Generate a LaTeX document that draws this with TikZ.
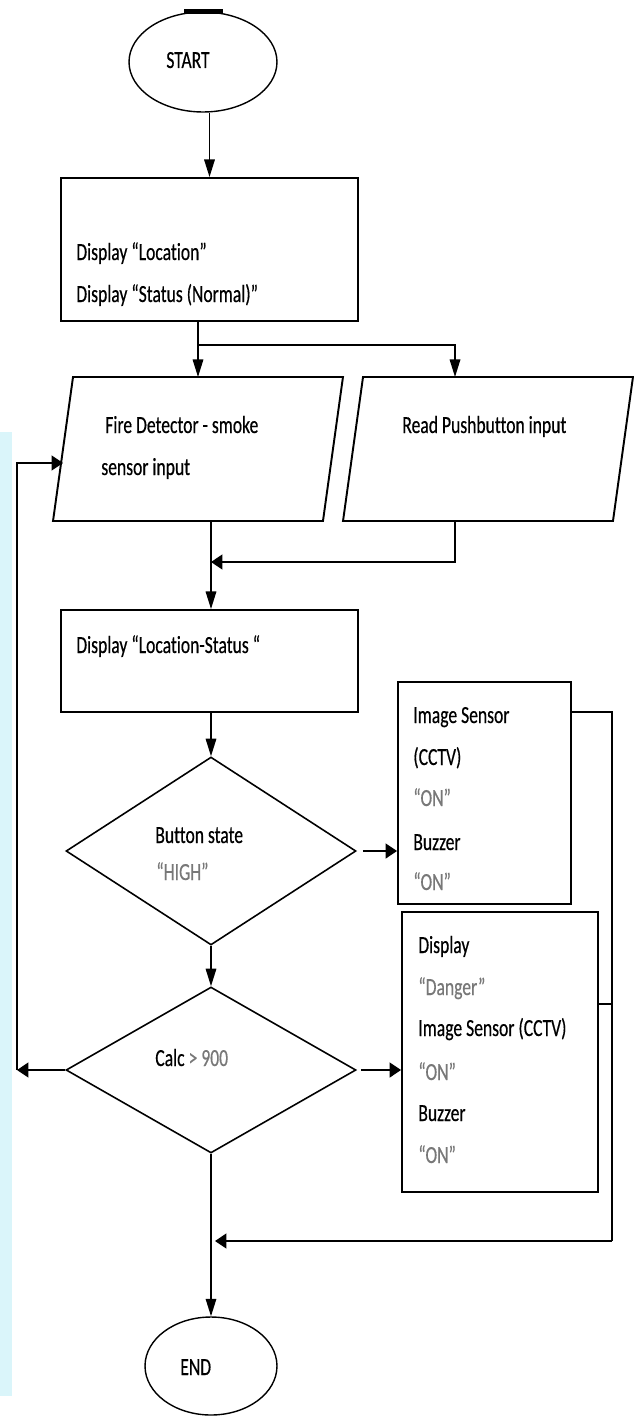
\documentclass[tikz,border=0pt]{standalone}
\usepackage{fontspec}
\setmainfont{Carlito}[FakeStretch=0.715, FakeBold=0.4, Ligatures=NoCommon]
\usetikzlibrary{shapes.geometric,arrows.meta,calc}
\definecolor{quotegray}{RGB}{120,120,120}
\definecolor{edgecyan}{RGB}{218,245,250}
\begin{document}
\begin{tikzpicture}[x=0.02cm,y=-0.02cm,
  term/.style={draw, ellipse, line width=0.8pt, inner sep=0pt},
  procbox/.style={draw, rectangle, line width=1.1pt, inner sep=0pt},
  iobox/.style={rectangle, inner sep=0pt, outer sep=0pt, minimum width=5.4cm, minimum height=2.88cm},
  iopath/.style={draw, line width=1.1pt, line join=miter},
  decision/.style={draw, diamond, line width=0.9pt, inner sep=0pt, minimum width=5.8cm},
  conn/.style={line width=0.9pt},
  varr/.style={conn, -{Triangle[length=10pt,width=6pt]}},
  harr/.style={conn, -{Triangle[length=6.5pt,width=8.5pt]}},
  txt/.style={anchor=base west, inner sep=0pt, font=\fontsize{14pt}{16pt}\selectfont},
  qtxt/.style={txt, text=quotegray},
]
\useasboundingbox (0,0) rectangle (634,1416);
\fill[white] (0,0) rectangle (634,1416);
\fill[edgecyan] (0,432) rectangle (12,1396);

% terminals
\node[term, minimum width=2.96cm, minimum height=2.0cm] (start) at (203,62) {};
\fill (184,9) rectangle (223,14);
\node[term, minimum width=2.64cm, minimum height=1.96cm] (end) at (211,1366) {};

% process boxes
\node[procbox, minimum width=5.94cm, minimum height=2.86cm] (b1) at (209.5,249.5) {};
\node[procbox, minimum width=5.94cm, minimum height=2.04cm] (b2) at (209.5,661) {};
\node[procbox, minimum width=3.46cm, minimum height=4.44cm] (b3) at (484.5,793) {};
\node[procbox, minimum width=3.92cm, minimum height=5.6cm] (b4) at (500,1052) {};

% input/output parallelograms
\node[iobox] (p1) at (198,449) {};
\node[iobox] (p2) at (488,449) {};
\foreach \p in {p1,p2}
  \path[iopath] ([xshift=-0.2cm]\p.south west) -- ([xshift=-0.2cm]\p.south east)
     -- ([xshift=0.2cm]\p.north east) -- ([xshift=0.2cm]\p.north west) -- cycle;

% decisions
\node[decision, minimum height=3.76cm] (d1) at (211,851) {};
\node[decision, minimum height=3.32cm] (d2) at (211,1070) {};

% texts
\node[txt] (tstart) at (166,68) {START};
\node[txt] (tend) at (180,1375) {END};
\node[txt] (t1a) at (76,260) {Display “Location”};
\node[txt] (t1b) at (76,302) {Display “Status (Normal)”};
\node[txt] (tp1a) at (105,433) {Fire Detector - smoke};
\node[txt] (tp1b) at (101,475) {sensor input};
\node[txt] (tp2) at (402,433) {Read Pushbutton input};
\node[txt] (t2) at (76,653) {Display “Location-Status “};
\node[txt] (td1a) at (155,843) {Button state};
\node[qtxt] (td1b) at (156,880) {“HIGH”};
\node[txt] (t3a) at (413,723) {Image Sensor};
\node[txt] (t3b) at (413,765) {(CCTV)};
\node[qtxt] (t3c) at (413,806) {“ON”};
\node[txt] (t3d) at (413,850) {Buzzer};
\node[qtxt] (t3e) at (413,890) {“ON”};
\node[txt] (t4a) at (418,953) {Display};
\node[qtxt] (t4b) at (418,995) {“Danger”};
\node[txt] (t4c) at (418,1036) {Image Sensor (CCTV)};
\node[qtxt] (t4d) at (418,1080) {“ON”};
\node[txt] (t4e) at (418,1121) {Buzzer};
\node[qtxt] (t4f) at (418,1163) {“ON”};
\node[txt] (td2) at (155,1066) {Calc {\color{quotegray}> 900}};

% junction points
\coordinate (sp) at (198,345);
\coordinate (mg) at (211,562);
\coordinate (lp) at (17,1070);
\coordinate (bt) at (612,712);
\coordinate (bb) at (612,1241);

% connectors
\draw[varr] (start.south -| b1.north) -- (b1.north);
\draw[varr] (b1.south -| p1.north) -- (p1.north);
\draw[varr] (sp) -| ([xshift=-0.66cm]p2.north);
\draw[varr] (p1.south -| mg) -- (b2.north -| mg);
\draw[harr] ([xshift=-0.66cm]p2.south) |- (mg);
\draw[varr] (b2.south -| d1.north) -- (d1.north);
\draw[harr] ([xshift=0.12cm]d1.east) -- (d1.east -| b3.west);
\draw[varr] (d1.south) -- (d2.north);
\draw[harr] ([xshift=0.08cm]d2.east) -- (d2.east -| b4.west);
\draw[harr] (d2.west) -- (lp);
\draw[harr] (lp) |- ([yshift=-0.28cm]p1.west);
\draw[conn] (b3.east |- bt) -- (bt) -- (bb);
\draw[conn] (b4.east |- 0,1004) -- (bt |- 0,1004);
\draw[harr] (bb) -- ($(bb -| end.north)+(4,0)$);
\draw[varr] (d2.south) -- (end.north);
\end{tikzpicture}
\end{document}
